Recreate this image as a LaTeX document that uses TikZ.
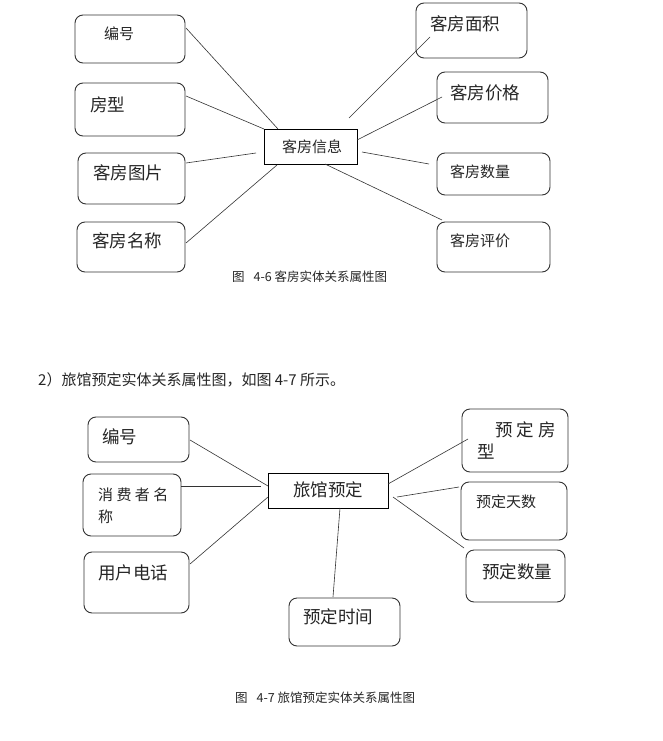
\documentclass[tikz,border=0pt]{standalone}
\usepackage{fontspec}
\setmainfont{Noto Sans CJK SC}
\usetikzlibrary{fit}
\tikzset{
  rbox/.style={draw=black!80, line width=0.9pt, rounded corners=8pt, inner sep=0pt},
  ebox/.style={draw=black, line width=0.9pt, inner sep=0pt},
  conn/.style={draw=black!80, line width=0.6pt},
  lbl/.style={anchor=west, inner sep=0pt, text=black!85},
  fa/.style={font=\fontsize{15}{17}\selectfont},
  fb/.style={font=\fontsize{17.5}{19}\selectfont},
  fc/.style={font=\fontsize{12.5}{14}\selectfont},
  fd/.style={font=\fontsize{15}{17}\selectfont}
}
\begin{document}
\begin{tikzpicture}[x=1pt,y=-1pt]
\useasboundingbox[fill=white] (0,0) rectangle (662,741);

% ---------- top diagram ----------
\node[rbox, fit={(75,15) (185,63)}] (t1) {};
\node[rbox, fit={(75,83) (185,136)}] (t2) {};
\node[rbox, fit={(78,153) (185,204)}] (t3) {};
\node[rbox, fit={(77,222) (185,272)}] (t4) {};
\node[ebox, fit={(264,129) (357,164)}] (tc) {};
\node[rbox, fit={(416,3) (527,58)}] (t5) {};
\node[rbox, fit={(437,72) (548,123)}] (t6) {};
\node[rbox, fit={(437,153) (550,195)}] (t7) {};
\node[rbox, fit={(437,222) (550,272)}] (t8) {};

\node[lbl,fa] (t1l) at (104,34) {编号};
\node[lbl,fb] (t2l) at (90,105) {房型};
\node[lbl,fb] (t3l) at (93,173) {客房图片};
\node[lbl,fb] (t4l) at (92,241) {客房名称};
\node[lbl,fa] (tcl) at (282,147) {客房信息};
\node[lbl,fb] (t5l) at (430,24) {客房面积};
\node[lbl,fb] (t6l) at (450,93) {客房价格};
\node[lbl,fa] (t7l) at (450,172) {客房数量};
\node[lbl,fa] (t8l) at (450,241) {客房评价};

\coordinate (a1) at (186,28);  \coordinate (c1) at (278,129);
\coordinate (a2) at (186,96);  \coordinate (c2) at (264,129);
\coordinate (a3) at (186,163); \coordinate (c3) at (256,153);
\coordinate (a4) at (186,243); \coordinate (c4) at (277,165);
\coordinate (a5) at (430,37);  \coordinate (c5) at (349,118);
\coordinate (a6) at (442,97);  \coordinate (c6) at (357,140);
\coordinate (a7) at (429,164); \coordinate (c7) at (362,152);
\coordinate (a8) at (442,220); \coordinate (c8) at (325,164);
\foreach \i in {1,...,8} {\draw[conn] (a\i) -- (c\i);}

\node[lbl,fc] (cap1) at (232,277) {图\hspace{9pt}4-6 客房实体关系属性图};

\node[lbl,fd] (head) at (38,380) {2）旅馆预定实体关系属性图，如图 4-7 所示。};

% ---------- bottom diagram ----------
\node[rbox, fit={(88,417) (189,462)}] (b1) {};
\node[rbox, fit={(83,474) (181,536)}] (b2) {};
\node[rbox, fit={(84,552) (189,613)}] (b3) {};
\node[ebox, fit={(268,473) (388,508)}] (bc) {};
\node[rbox, fit={(289,598) (400,646)}] (b4) {};
\node[rbox, fit={(462,409) (568,472)}] (b5) {};
\node[rbox, fit={(461,482) (567,540)}] (b6) {};
\node[rbox, fit={(466,550) (565,602)}] (b7) {};

\node[lbl,fb] (b1l) at (102,437) {编号};
\node[lbl,fa] (b2l) at (98,495) {消 费 者 名};
\node[lbl,fa] (b2m) at (98,517) {称};
\node[lbl,fb] (b3l) at (98,573) {用户电话};
\node[lbl,fb] (bcl) at (293,490) {旅馆预定};
\node[lbl,fb] (b4l) at (303,617) {预定时间};
\node[lbl,fb] (b5l) at (495,430) {预 定 房};
\node[lbl,fb] (b5m) at (477,452) {型};
\node[lbl,fa] (b6l) at (476,502) {预定天数};
\node[lbl,fb] (b7l) at (482,572) {预定数量};

\coordinate (p1) at (190,440); \coordinate (q1) at (268,486);
\coordinate (p2) at (181,486); \coordinate (q2) at (261,486);
\coordinate (p3) at (190,564); \coordinate (q3) at (268,497);
\coordinate (p4) at (333,597); \coordinate (q4) at (340,508);
\coordinate (p5) at (468,439); \coordinate (q5) at (388,484);
\coordinate (p6) at (459,487); \coordinate (q6) at (397,497);
\coordinate (p7) at (464,548); \coordinate (q7) at (393,497);
\foreach \i in {1,...,7} {\draw[conn] (p\i) -- (q\i);}

\node[lbl,fc] (cap2) at (235,698) {图\hspace{9pt}4-7 旅馆预定实体关系属性图};
\end{tikzpicture}
\end{document}
